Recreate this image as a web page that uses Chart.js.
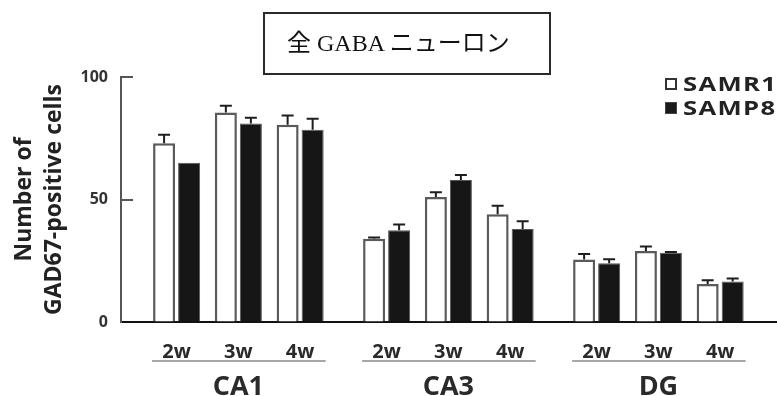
<!DOCTYPE html>
<html>
<head>
<meta charset="utf-8">
<script src="https://cdn.jsdelivr.net/npm/chart.js@4.4.1/dist/chart.umd.min.js"></script>
<style>
  html, body { margin: 0; padding: 0; background: #fff; }
  #wrap { position: relative; width: 777px; height: 396px; overflow: hidden; }
  #chart { position: absolute; left: 0; top: 0; }
  #title-box {
    position: absolute; left: 263px; top: 12px; width: 288px; height: 63px;
    box-sizing: border-box; border: 2px solid #2a2a2a;
    font-family: "Liberation Serif", "Noto Sans CJK JP", serif;
    font-size: 24px; line-height: 58px; padding-left: 22px; color: #111;
    white-space: nowrap;
  }
  .lg-box { position: absolute; left: 665px; width: 12px; height: 12px; box-sizing: border-box; }
  .lg-text {
    position: absolute; left: 683px; height: 24px; line-height: 24px;
    font-family: "Open Sans", sans-serif; font-weight: 700; font-size: 19px;
    letter-spacing: 1px; color: #222; white-space: nowrap;
    transform: scaleX(1.35); transform-origin: left center;
  }
</style>
</head>
<body>
<div id="wrap">
  <canvas id="chart" width="777" height="396"></canvas>
  <div id="title-box">全 GABA ニューロン</div>
  <div class="lg-box" style="top:78px; border:2px solid #333; background:#fff;"></div>
  <div class="lg-text" style="top:72px;">SAMR1</div>
  <div class="lg-box" style="top:102px; background:#1a1a1a; border:1px solid #444;"></div>
  <div class="lg-text" style="top:96px;">SAMP8</div>
</div>
<script>
// data
const regions = ['CA1', 'CA3', 'DG'];
const weeks = ['2w', '3w', '4w'];
const samr1Values = [73, 85.5, 80.5, 34, 51, 44, 25.5, 29, 15.5];
const samr1Errors = [3.4, 2.8, 3.8, 0.5, 2, 3.4, 2.3, 1.8, 1.5];
const samp8Values = [65, 81, 78.5, 37.5, 58, 38, 24, 28.3, 16.5];
const samp8Errors = [0, 2.4, 4.5, 2.3, 2, 3.1, 1.6, 0.3, 1.3];
const yTicks = [0, 50, 100];

// extra space between the region groups, in category units
const regionGap = 0.4;

const xPositions = [];
const xLabels = [];
regions.forEach((r, ri) => {
    weeks.forEach((w, wi) => {
        xPositions.push(ri * (weeks.length + regionGap) + wi);
        xLabels.push(w);
    });
});
const regionCenters = regions.map((r, ri) => ri * (weeks.length + regionGap) + (weeks.length - 1) / 2);

const toPoints = (values) => values.map((v, i) => ({ x: xPositions[i], y: v }));

// error bars (upper only), inward y ticks and group underlines
const extrasPlugin = {
    id: 'extras',
    afterDatasetsDraw(chart) {
        const ctx = chart.ctx;
        const yScale = chart.scales.y;
        ctx.save();
        ctx.strokeStyle = '#1e1e1e';
        ctx.lineWidth = 2;
        chart.data.datasets.forEach((ds, di) => {
            const meta = chart.getDatasetMeta(di);
            meta.data.forEach((bar, i) => {
                const err = ds.errors[i];
                if (!err) return;
                const p = bar.getProps(['x', 'y'], true);
                const yTop = yScale.getPixelForValue(ds.data[i].y + err);
                ctx.beginPath();
                ctx.moveTo(p.x, p.y);
                ctx.lineTo(p.x, yTop);
                ctx.moveTo(p.x - 6, yTop);
                ctx.lineTo(p.x + 6, yTop);
                ctx.stroke();
            });
        });
        ctx.restore();
    },
    afterDraw(chart) {
        const ctx = chart.ctx;
        const yScale = chart.scales.y;
        const xScale = chart.scales.x;
        const left = chart.chartArea.left;
        ctx.save();
        // short ticks pointing into the plot
        ctx.strokeStyle = '#555';
        ctx.lineWidth = 2;
        yTicks.filter(v => v > 0).forEach(v => {
            const y = Math.round(yScale.getPixelForValue(v));
            ctx.beginPath();
            ctx.moveTo(left - 1, y);
            ctx.lineTo(left + 12, y);
            ctx.stroke();
        });
        // underline under each region's week labels
        const m0 = chart.getDatasetMeta(0).data;
        const m1 = chart.getDatasetMeta(1).data;
        ctx.strokeStyle = '#8a8a8a';
        ctx.lineWidth = 1.5;
        const y = xScale.bottom - 1;
        regions.forEach((r, ri) => {
            const a = m0[ri * weeks.length].getProps(['x', 'width'], true);
            const b = m1[ri * weeks.length + weeks.length - 1].getProps(['x', 'width'], true);
            ctx.beginPath();
            ctx.moveTo(a.x - a.width / 2 - 1, y);
            ctx.lineTo(b.x + b.width / 2 + 2, y);
            ctx.stroke();
        });
        ctx.restore();
    }
};

new Chart(document.getElementById('chart'), {
    type: 'bar',
    data: {
        datasets: [
            {
                label: 'SAMR1',
                data: toPoints(samr1Values),
                errors: samr1Errors,
                backgroundColor: '#ffffff',
                borderColor: '#5a5a5a',
                borderWidth: 2.5
            },
            {
                label: 'SAMP8',
                data: toPoints(samp8Values),
                errors: samp8Errors,
                backgroundColor: '#161616',
                borderColor: '#555',
                borderWidth: 1
            }
        ]
    },
    options: {
        responsive: false,
        animation: false,
        events: [],
        layout: { padding: { top: 77, left: 0, right: 0, bottom: 0 } },
        datasets: {
            bar: { categoryPercentage: 0.81, barPercentage: 0.88 }
        },
        plugins: {
            legend: { display: false },
            title: { display: false },
            tooltip: { enabled: false }
        },
        scales: {
            x: {
                type: 'linear',
                position: 'bottom',
                weight: 0,
                offset: false,
                min: -0.9,
                max: 9.72,
                bounds: 'data',
                grid: { display: false, offset: false },
                border: { display: true, color: '#111', width: 2 },
                afterBuildTicks: (scale) => {
                    scale.ticks = xPositions.map(v => ({ value: v }));
                },
                afterFit: (scale) => { scale.height = 40; },
                ticks: {
                    autoSkip: false,
                    maxRotation: 0,
                    padding: 10,
                    color: '#2a2a2a',
                    font: { family: 'Open Sans', weight: 'bold', size: 20 },
                    callback: (value, index) => xLabels[index]
                }
            },
            x2: {
                type: 'linear',
                position: 'bottom',
                weight: 1,
                offset: false,
                min: -0.9,
                max: 9.72,
                bounds: 'data',
                grid: { display: false, offset: false },
                border: { display: false },
                afterBuildTicks: (scale) => {
                    scale.ticks = regionCenters.map(v => ({ value: v }));
                },
                afterFit: (scale) => { scale.height = 34; },
                ticks: {
                    autoSkip: false,
                    maxRotation: 0,
                    padding: 1,
                    color: '#2a2a2a',
                    font: { family: 'Open Sans', weight: 'bold', size: 27 },
                    callback: (value, index) => regions[index]
                }
            },
            y: {
                min: 0,
                max: 100,
                afterBuildTicks: (scale) => {
                    scale.ticks = yTicks.map(v => ({ value: v }));
                },
                afterFit: (scale) => { scale.width = 121; },
                grid: { drawOnChartArea: false, drawTicks: false },
                border: { display: true, color: '#555', width: 2 },
                ticks: {
                    padding: 13,
                    color: '#333',
                    font: { family: 'Open Sans', weight: 'bold', size: 16 }
                },
                title: {
                    display: true,
                    text: ['Number of', 'GAD67-positive cells'],
                    color: '#222',
                    padding: { top: 10, bottom: 0 },
                    font: { family: 'Open Sans', weight: 'bold', size: 23, lineHeight: 1.3 }
                }
            }
        }
    },
    plugins: [extrasPlugin]
});
</script>
</body>
</html>
